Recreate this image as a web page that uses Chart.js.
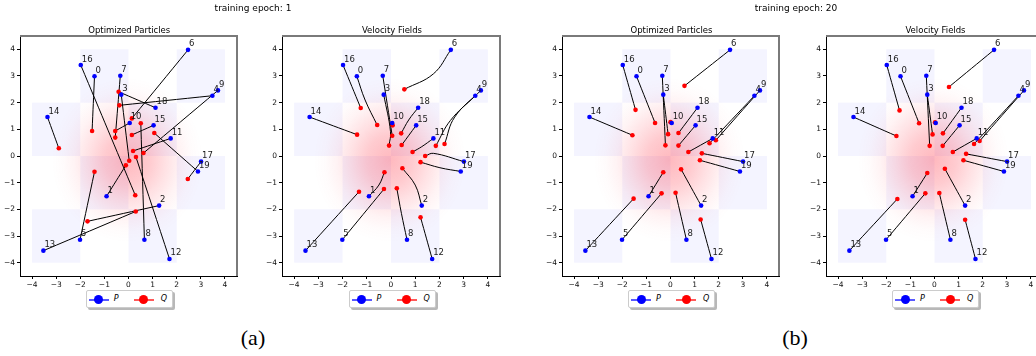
<!DOCTYPE html>
<html>
<head>
<meta charset="utf-8">
<script src="https://cdn.jsdelivr.net/npm/chart.js@4.4.0/dist/chart.umd.min.js"></script>
<style>
  body { margin:0; width:1036px; height:356px; overflow:hidden; background:#fff; position:relative; font-family:'DejaVu Sans', sans-serif; color:#000; }
  canvas { position:absolute; }
  .sup { position:absolute; top:3px; font-size:9px; transform:translateX(-50%); white-space:nowrap; }
  .ttl { position:absolute; top:24.5px; font-size:8.5px; transform:translateX(-50%); white-space:nowrap; }
  .cap { position:absolute; top:325px; font-family:'Liberation Serif', serif; font-size:22px; transform:translateX(-50%); }
  .legend { position:absolute; top:290px; width:87px; height:18px; border:1px solid #ccc; border-radius:2px; background:#fff;
            box-shadow:2px 2px 0 rgba(0,0,0,0.28); box-sizing:border-box; }
  .legend .ln { position:absolute; top:8px; height:1.5px; width:20px; }
  .legend .dot { position:absolute; top:4px; width:9px; height:9px; border-radius:50%; }
  .legend .lb { position:absolute; top:3px; font-size:8px; font-style:italic; }
</style>
</head>
<body>
<script>
// particle ids and start positions P (same in every panel)
const particleIds = [0, 1, 2, 3, 4, 5, 6, 7, 8, 9, 10, 11, 12, 13, 14, 15, 16, 17, 18, 19];
const pX = [-1.41, -0.91, 1.27, -0.30, 3.48, -2.01, 2.47, -0.34, 0.66, 3.71, 0.05, 1.75, 1.70, -3.53, -3.36, 1.04, -1.98, 3.01, 1.12, 2.88];
const pY = [2.99, -1.51, -1.86, 2.30, 2.26, -3.14, 3.98, 3.01, -3.14, 2.46, 1.24, 0.66, -3.86, -3.55, 1.46, 1.15, 3.41, -0.21, 1.81, -0.58];

// epoch 1, optimized particles: end points Q
const optQX1 = [-1.51, -0.11, -1.70, 0.03, -0.38, -1.41, 0.14, -0.55, 0.51, 0.62, -0.55, 0.19, 0.31, 0.30, -2.89, 0.14, 0.28, 2.46, -0.41, 1.07];
const optQY1 = [0.94, -0.35, -2.45, -0.18, 1.90, -0.59, 1.41, 0.69, 1.23, 0.11, 0.94, 0.19, -0.04, -2.08, 0.29, 0.79, -1.47, -0.86, 2.41, 0.86];

// epoch 1, velocity fields: end points Q and a point read halfway along each curved path
const velQX1 = [-0.57, -0.27, 0.47, -0.08, 1.85, -0.29, 0.55, 0.05, 0.24, 2.21, 0.07, 0.89, 1.22, -1.32, -1.40, 0.44, -1.25, 1.41, 0.42, 1.22];
const velQY1 = [1.16, -0.61, -0.46, 0.39, 0.38, -1.24, 2.50, 0.76, -1.21, 0.45, 1.15, 0.15, -2.30, -1.34, 0.80, 0.41, 1.80, 0.00, 0.85, -0.23];
const velMidX1 = [-1.07, -0.50, 1.00, -0.02, 2.45, null, 1.75, null, 0.43, 2.63, null, 1.27, null, null, null, null, null, 1.75, 0.73, 2.02];
const velMidY1 = [2.10, -1.09, -1.09, 0.91, 1.33, null, 3.08, null, -2.15, 1.46, null, 0.35, null, null, null, null, null, 0.10, 1.35, -0.44];

// epoch 20, optimized particles
const optQX20 = [-0.64, -0.30, 0.44, -0.10, 1.62, -0.37, 0.58, -0.21, 0.21, 1.88, 0.00, 0.74, 1.25, -1.53, -1.58, 0.33, -1.45, 1.30, 0.33, 1.22];
const optQY20 = [1.24, -0.61, -0.50, 0.82, 0.48, -1.40, 2.63, 0.40, -1.38, 0.59, 1.27, 0.15, -2.38, -1.60, 0.78, 0.39, 1.73, 0.10, 0.86, -0.16];

// epoch 20, velocity fields
const velQX20 = [-0.64, -0.30, 0.43, -0.08, 1.64, -0.38, 0.60, -0.20, 0.20, 1.87, 0.02, 0.76, 1.27, -1.54, -1.58, 0.34, -1.45, 1.31, 0.35, 1.20];
const velQY20 = [1.23, -0.64, -0.48, 0.81, 0.45, -1.40, 2.59, 0.38, -1.39, 0.56, 1.26, 0.15, -2.39, -1.61, 0.75, 0.38, 1.71, 0.08, 0.85, -0.16];

const tickValues = [-4, -3, -2, -1, 0, 1, 2, 3, 4];
// lower-left corners of the 2x2 checkerboard cells of the target samples
const checkerCells = [[-2, 2], [2, 2], [-4, 0], [0, 0], [-2, -2], [2, -2], [-4, -4], [0, -4]];

const panels = [
    { left: 20, right: 238.5, title: 'Optimized Particles', qx: optQX1, qy: optQY1 },
    { left: 282, right: 502, title: 'Velocity Fields', qx: velQX1, qy: velQY1, mx: velMidX1, my: velMidY1 },
    { left: 562, right: 781, title: 'Optimized Particles', qx: optQX20, qy: optQY20 },
    { left: 826, right: 1045, title: 'Velocity Fields', qx: velQX20, qy: velQY20 },
];
const supTitles = [{ text: 'training epoch: 1', x: 253 }, { text: 'training epoch: 20', x: 796 }];
const captions = [{ text: '(a)', x: 253 }, { text: '(b)', x: 795 }];

const AREA_TOP = 36, AREA_BOTTOM = 276, Y_AXIS_W = 26, X_AXIS_H = 14, PAD_TOP = 8, PAD_RIGHT = 2;

Chart.defaults.font.family = "'DejaVu Sans', sans-serif";
Chart.defaults.font.size = 7.5;
Chart.defaults.color = '#000';

const fmtTick = (v) => (v < 0 ? '\u2212' + Math.abs(v) : String(v));

const backgroundPlugin = {
    id: 'samples',
    beforeDatasetsDraw(chart) {
        const { ctx, chartArea: a, scales: { x, y } } = chart;
        ctx.save();
        ctx.beginPath();
        ctx.rect(a.left, a.top, a.right - a.left, a.bottom - a.top);
        ctx.clip();
        ctx.fillStyle = 'rgba(70,70,255,0.06)';
        checkerCells.forEach(([cx, cy]) => {
            const x0 = x.getPixelForValue(cx), x1 = x.getPixelForValue(cx + 2);
            const y0 = y.getPixelForValue(cy + 2), y1 = y.getPixelForValue(cy);
            ctx.fillRect(x0, y0, x1 - x0, y1 - y0);
        });
        // gaussian source samples around the origin
        const ox = x.getPixelForValue(-0.05), oy = y.getPixelForValue(-0.15);
        const rx = x.getPixelForValue(3.1) - ox;
        const ry = y.getPixelForValue(-3.25) - oy;
        ctx.translate(ox, oy);
        ctx.scale(1, ry / rx);
        const g = ctx.createRadialGradient(0, 0, 0, 0, 0, rx);
        g.addColorStop(0, 'rgba(255,20,40,0.30)');
        g.addColorStop(0.3, 'rgba(255,20,40,0.22)');
        g.addColorStop(0.5, 'rgba(255,20,40,0.13)');
        g.addColorStop(0.7, 'rgba(255,20,40,0.05)');
        g.addColorStop(0.85, 'rgba(255,20,40,0.015)');
        g.addColorStop(1, 'rgba(255,20,40,0)');
        ctx.fillStyle = g;
        ctx.beginPath();
        ctx.arc(0, 0, rx, 0, Math.PI * 2);
        ctx.fill();
        ctx.restore();
    }
};

const idLabelPlugin = {
    id: 'idLabels',
    afterDatasetsDraw(chart) {
        const { ctx, scales: { x, y } } = chart;
        ctx.save();
        ctx.font = "8.5px 'DejaVu Sans', sans-serif";
        ctx.fillStyle = '#1a1a1a';
        ctx.textAlign = 'left';
        ctx.textBaseline = 'alphabetic';
        particleIds.forEach((id, i) => {
            ctx.fillText(String(id), x.getPixelForValue(pX[i]) + 1, y.getPixelForValue(pY[i]) - 3.5);
        });
        ctx.restore();
    }
};

const framePlugin = {
    id: 'frame',
    afterDraw(chart) {
        const { ctx, chartArea: a } = chart;
        ctx.save();
        ctx.strokeStyle = '#7a7a7a';
        ctx.lineWidth = 2;
        ctx.beginPath();
        ctx.moveTo(a.left, a.top);
        ctx.lineTo(a.right, a.top);
        ctx.lineTo(a.right, a.bottom);
        ctx.stroke();
        ctx.restore();
    }
};

const makeScale = (horizontal) => ({
    type: 'linear',
    min: -4.5,
    max: 4.5,
    afterBuildTicks: (s) => { s.ticks = tickValues.map((v) => ({ value: v })); },
    afterFit: (s) => { if (horizontal) s.height = X_AXIS_H; else s.width = Y_AXIS_W; },
    ticks: { callback: (v) => fmtTick(v), padding: 2, autoSkip: false, maxRotation: 0, color: '#111' },
    grid: { drawOnChartArea: false, drawTicks: true, tickLength: 3, color: '#000' },
    border: { display: true, color: '#000', width: 1 },
});

const addText = (cls, text, x) => {
    const d = document.createElement('div');
    d.className = cls;
    d.textContent = text;
    d.style.left = x + 'px';
    document.body.appendChild(d);
};

const addLegend = (centerX) => {
    const lg = document.createElement('div');
    lg.className = 'legend';
    lg.style.left = (centerX - 43.5) + 'px';
    lg.innerHTML =
        '<div class="ln" style="left:2px;background:rgba(0,0,255,0.65)"></div>' +
        '<div class="dot" style="left:7.5px;background:#0000ff"></div>' +
        '<div class="lb" style="left:27px">P</div>' +
        '<div class="ln" style="left:47px;background:rgba(255,0,0,0.65)"></div>' +
        '<div class="dot" style="left:52.5px;background:#ff0000"></div>' +
        '<div class="lb" style="left:74px">Q</div>';
    document.body.appendChild(lg);
};

panels.forEach((p) => {
    const canvas = document.createElement('canvas');
    const w = Math.round(p.right - p.left) + Y_AXIS_W + PAD_RIGHT;
    const h = (AREA_BOTTOM - AREA_TOP) + PAD_TOP + X_AXIS_H;
    canvas.width = w;
    canvas.height = h;
    canvas.style.left = (p.left - Y_AXIS_W) + 'px';
    canvas.style.top = (AREA_TOP - PAD_TOP) + 'px';
    document.body.appendChild(canvas);

    const paths = particleIds.map((id, i) => {
        const pts = [{ x: pX[i], y: pY[i] }];
        if (p.mx && p.mx[i] !== null) pts.push({ x: p.mx[i], y: p.my[i] });
        pts.push({ x: p.qx[i], y: p.qy[i] });
        return {
            label: 'path ' + id,
            data: pts,
            showLine: true,
            borderColor: '#000',
            borderWidth: 1,
            pointRadius: 0,
            tension: 0.4,
            order: 3,
        };
    });

    new Chart(canvas, {
        type: 'scatter',
        data: {
            datasets: [
                {
                    label: 'P',
                    data: particleIds.map((id, i) => ({ x: pX[i], y: pY[i] })),
                    backgroundColor: '#0000ff',
                    borderWidth: 0,
                    pointRadius: 2.3,
                    order: 1,
                },
                {
                    label: 'Q',
                    data: particleIds.map((id, i) => ({ x: p.qx[i], y: p.qy[i] })),
                    backgroundColor: '#ff0000',
                    borderWidth: 0,
                    pointRadius: 2.3,
                    order: 2,
                },
                ...paths,
            ],
        },
        options: {
            responsive: false,
            animation: false,
            events: [],
            layout: { padding: { top: PAD_TOP, right: PAD_RIGHT, left: 0, bottom: 0 } },
            plugins: { legend: { display: false }, tooltip: { enabled: false }, title: { display: false } },
            scales: { x: makeScale(true), y: makeScale(false) },
        },
        plugins: [backgroundPlugin, idLabelPlugin, framePlugin],
    });

    const cx = (p.left + p.right) / 2;
    addText('ttl', p.title, cx);
    addLegend(cx);
});

supTitles.forEach((t) => addText('sup', t.text, t.x));
captions.forEach((t) => addText('cap', t.text, t.x));
</script>
</body>
</html>
